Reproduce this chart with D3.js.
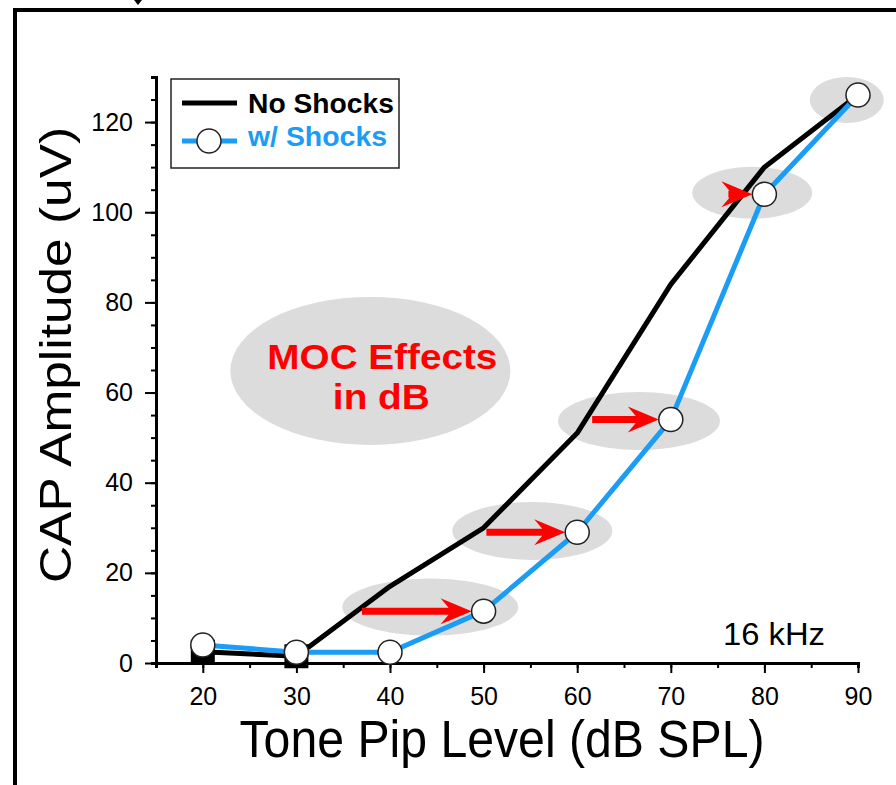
<!DOCTYPE html>
<html>
<head>
<meta charset="utf-8">
<script src="https://cdn.jsdelivr.net/npm/d3@7"></script>
<style>
  body { margin: 0; background: #fff; }
  svg { display: block; font-family: "Liberation Sans", Arial, sans-serif; }
</style>
</head>
<body>
<script>
// data
const levels = [20, 30, 40, 50, 60, 70, 80, 90];
const noShocks = [2.5, 1.5, 17, 30, 51, 84, 110, 126];
const withShocks = [4, 2.4, 2.4, 11.5, 29, 54, 104, 126];
const squareLevels = [20, 30];
const xTicks = [20, 30, 40, 50, 60, 70, 80, 90];
const yTicks = [0, 20, 40, 60, 80, 100, 120];

// arrows: start level (dB) -> shifted point of the w/ Shocks curve
const arrowStart = [37, 50.3, 61.6, 76.9];
const arrowEnd = [50, 60, 70, 80];

// grey halos (centres in data units)
const haloX = [44.3, 55.2, 66.6, 78.7, 88.8];
const haloY = [12.4, 29.3, 53.7, 104.3, 124.9];
const noteX = 37.9, noteY = 64.8;

const w = 896, h = 785;
const blue = "#1b9cf5";

const svg = d3.select("body").append("svg")
    .attr("width", w)
    .attr("height", h);

let x = d3.scaleLinear().domain([15, 90]).range([156, 858]);
let y = d3.scaleLinear().domain([0, 130]).range([663, 77]);

// outer frame
svg.append("path")
    .attr("d", "M15,785 L15,10 L896,10")
    .attr("fill", "none")
    .attr("stroke", "#000")
    .attr("stroke-width", 4);
svg.append("path")
    .attr("d", "M134,0 L142,0 L138,5 Z")
    .attr("fill", "#000");

// halos
const haloR = [[88, 28.5], [80, 29], [81, 29], [60, 26], [37, 23]];
svg.selectAll(".halo")
    .data(haloX)
    .enter()
    .append("ellipse")
    .attr("cx", d => x(d))
    .attr("cy", (d, i) => y(haloY[i]))
    .attr("rx", (d, i) => haloR[i][0])
    .attr("ry", (d, i) => haloR[i][1])
    .attr("fill", "#dcdcdc");

svg.append("ellipse")
    .attr("cx", x(noteX))
    .attr("cy", y(noteY))
    .attr("rx", 140)
    .attr("ry", 74)
    .attr("fill", "#dcdcdc");

svg.append("text")
    .attr("x", x(noteX) + 12)
    .attr("y", y(noteY) - 2)
    .attr("text-anchor", "middle")
    .attr("font-size", 35)
    .attr("textLength", 230)
    .attr("lengthAdjust", "spacingAndGlyphs")
    .attr("font-weight", "bold")
    .attr("fill", "#ff0000")
    .text("MOC Effects");
svg.append("text")
    .attr("x", x(noteX) + 11)
    .attr("y", y(noteY) + 38)
    .attr("text-anchor", "middle")
    .attr("font-size", 35)
    .attr("textLength", 97)
    .attr("lengthAdjust", "spacingAndGlyphs")
    .attr("font-weight", "bold")
    .attr("fill", "#ff0000")
    .text("in dB");

// axes: minor ticks every 5, major with labels
const styleAxis = g => {
    g.select(".domain").attr("stroke-width", 3);
    g.selectAll(".tick line").attr("stroke-width", 2);
    g.selectAll(".tick text").attr("font-size", 25).attr("fill", "#000");
};

svg.append("g")
    .attr("transform", "translate(" + x(15) + ",0)")
    .call(d3.axisLeft(y).tickValues(d3.range(0, 131, 5)).tickSize(5).tickFormat(""))
    .call(styleAxis);
svg.append("g")
    .attr("transform", "translate(" + x(15) + ",0)")
    .call(d3.axisLeft(y).tickValues(yTicks).tickSize(11).tickPadding(12).tickSizeOuter(0))
    .call(styleAxis)
    .call(g => g.select(".domain").remove());

svg.append("g")
    .attr("transform", "translate(0," + y(0) + ")")
    .call(d3.axisBottom(x).tickValues(d3.range(15, 91, 5)).tickSize(5).tickFormat(""))
    .call(styleAxis);
svg.append("g")
    .attr("transform", "translate(0," + y(0) + ")")
    .call(d3.axisBottom(x).tickValues(xTicks).tickSize(10).tickPadding(14).tickSizeOuter(0))
    .call(styleAxis)
    .call(g => g.select(".domain").remove());

// axis titles
svg.append("text")
    .attr("x", 502)
    .attr("y", 757)
    .attr("text-anchor", "middle")
    .attr("font-size", 51)
    .attr("textLength", 525)
    .attr("lengthAdjust", "spacingAndGlyphs")
    .text("Tone Pip Level (dB SPL)");

svg.append("text")
    .attr("transform", "translate(71,355)rotate(-90)")
    .attr("text-anchor", "middle")
    .attr("font-size", 45)
    .attr("textLength", 456)
    .attr("lengthAdjust", "spacingAndGlyphs")
    .text("CAP Amplitude (uV)");

svg.append("text")
    .attr("x", 723)
    .attr("y", 645)
    .attr("font-size", 32)
    .attr("textLength", 102)
    .attr("lengthAdjust", "spacingAndGlyphs")
    .text("16 kHz");

// curves
const line = d3.line()
    .x(d => x(d[0]))
    .y(d => y(d[1]));

svg.append("path")
    .datum(levels.map((l, i) => [l, noShocks[i]]))
    .attr("d", line)
    .attr("fill", "none")
    .attr("stroke", "#000")
    .attr("stroke-width", 5)
    .attr("stroke-linejoin", "round");

svg.selectAll(".sq")
    .data(squareLevels)
    .enter()
    .append("rect")
    .attr("x", d => x(d) - 12)
    .attr("y", d => y(noShocks[levels.indexOf(d)]) - 12)
    .attr("width", 24)
    .attr("height", 24)
    .attr("fill", "#000");

svg.append("path")
    .datum(levels.map((l, i) => [l, withShocks[i]]))
    .attr("d", line)
    .attr("fill", "none")
    .attr("stroke", blue)
    .attr("stroke-width", 5)
    .attr("stroke-linejoin", "round");

// red arrows
const r = 12;
svg.selectAll(".arrow")
    .data(arrowStart)
    .enter()
    .append("path")
    .attr("d", (d, i) => {
        let k = levels.indexOf(arrowEnd[i]);
        let tx = x(arrowEnd[i]) - r, ty = y(withShocks[k]);
        let sx = Math.min(x(d), tx - 24);
        return "M" + tx + "," + ty +
            " L" + (tx - 31) + "," + (ty - 13) +
            " L" + (tx - 23) + "," + (ty - 3.5) +
            " L" + sx + "," + (ty - 3.5) +
            " L" + sx + "," + (ty + 3.5) +
            " L" + (tx - 23) + "," + (ty + 3.5) +
            " L" + (tx - 31) + "," + (ty + 13) + " Z";
    })
    .attr("fill", "#ff0000");

svg.selectAll(".dot")
    .data(levels)
    .enter()
    .append("circle")
    .attr("cx", d => x(d))
    .attr("cy", (d, i) => y(withShocks[i]))
    .attr("r", r)
    .attr("fill", "#fff")
    .attr("stroke", "#222")
    .attr("stroke-width", 1.5);

// legend
const lg = svg.append("g");
lg.append("rect")
    .attr("x", 171).attr("y", 79)
    .attr("width", 228).attr("height", 89)
    .attr("fill", "#fff")
    .attr("stroke", "#222")
    .attr("stroke-width", 1.5);
lg.append("line")
    .attr("x1", 182).attr("x2", 237).attr("y1", 103).attr("y2", 103)
    .attr("stroke", "#000").attr("stroke-width", 5);
lg.append("text")
    .attr("x", 248).attr("y", 113)
    .attr("font-size", 28).attr("font-weight", "bold")
    .attr("textLength", 146)
    .attr("lengthAdjust", "spacingAndGlyphs")
    .text("No Shocks");
lg.append("line")
    .attr("x1", 182).attr("x2", 237).attr("y1", 141).attr("y2", 141)
    .attr("stroke", blue).attr("stroke-width", 5);
lg.append("circle")
    .attr("cx", 209).attr("cy", 141).attr("r", r)
    .attr("fill", "#fff").attr("stroke", "#222").attr("stroke-width", 1.5);
lg.append("text")
    .attr("x", 248).attr("y", 146)
    .attr("font-size", 28).attr("font-weight", "bold")
    .attr("textLength", 139)
    .attr("lengthAdjust", "spacingAndGlyphs")
    .attr("fill", blue)
    .attr("class", "legend-label")
    .text("w/ Shocks");
</script>
</body>
</html>
